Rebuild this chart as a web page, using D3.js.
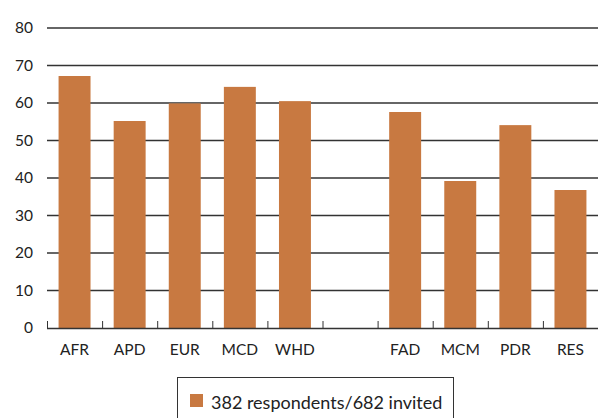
<!DOCTYPE html>
<meta charset="utf-8">
<body style="margin:0;background:#fff">
<svg width="598" height="418"></svg>
<script src="https://d3js.org/d3.v7.min.js"></script>
<script>
// survey response rates by department
var categories = ['AFR', 'APD', 'EUR', 'MCD', 'WHD', '', 'FAD', 'MCM', 'PDR', 'RES'];
var values = [67.2, 55.2, 59.9, 64.3, 60.5, null, 57.6, 39.2, 54.1, 36.8];
var yTicks = [0, 10, 20, 30, 40, 50, 60, 70, 80];
var legendLabel = '382 respondents/682 invited';

var svg = d3.select('svg');
var font = 'Lato, "Open Sans", sans-serif';
var barColor = '#c87941';

var x = d3.scaleBand()
  .domain(d3.range(categories.length))
  .range([47, 598])
  .paddingInner(0.42)
  .paddingOuter(0.21);

var y = d3.scaleLinear().domain([0, 80]).range([328, 28]);

// gridlines
svg.append('g').selectAll('line')
  .data(yTicks.slice(1))
  .enter().append('line')
  .attr('x1', 47).attr('x2', 598)
  .attr('y1', function(d) { return y(d); })
  .attr('y2', function(d) { return y(d); })
  .attr('stroke', '#333')
  .attr('stroke-width', 1.5);

// y labels
svg.append('g').selectAll('text')
  .data(yTicks)
  .enter().append('text')
  .attr('x', 33)
  .attr('y', function(d) { return y(d); })
  .attr('dy', '0.35em')
  .attr('text-anchor', 'end')
  .attr('font-family', font)
  .attr('font-size', 15.5)
  .attr('fill', '#222')
  .text(function(d) { return d; });

// bars
var bars = values.map(function(v, i) { return {i: i, v: v}; })
  .filter(function(d) { return d.v != null; });
svg.append('g').selectAll('rect')
  .data(bars)
  .enter().append('rect')
  .attr('x', function(d) { return x(d.i); })
  .attr('width', x.bandwidth())
  .attr('y', function(d) { return y(d.v); })
  .attr('height', function(d) { return y(0) - y(d.v); })
  .attr('fill', barColor);

// baseline and ticks
var step = x.step();
svg.append('line')
  .attr('x1', 47).attr('x2', 598)
  .attr('y1', 328.5).attr('y2', 328.5)
  .attr('stroke', '#333').attr('stroke-width', 1.5);
svg.append('g').selectAll('line')
  .data(d3.range(categories.length + 1))
  .enter().append('line')
  .attr('x1', function(d) { return 47.5 + d * step; })
  .attr('x2', function(d) { return 47.5 + d * step; })
  .attr('y1', 321).attr('y2', 328)
  .attr('stroke', '#333').attr('stroke-width', 1);

// category labels
svg.append('g').selectAll('text')
  .data(categories)
  .enter().append('text')
  .attr('x', function(d, i) { return x(i) + x.bandwidth() / 2; })
  .attr('y', 355)
  .attr('text-anchor', 'middle')
  .attr('font-family', font)
  .attr('font-size', 15.5)
  .attr('fill', '#222')
  .text(function(d) { return d; });

// legend
var lg = svg.append('g');
lg.append('rect')
  .attr('x', 177.5).attr('y', 377.5)
  .attr('width', 276).attr('height', 50)
  .attr('fill', 'none').attr('stroke', '#333').attr('stroke-width', 1);
lg.append('rect')
  .attr('x', 190).attr('y', 394)
  .attr('width', 13).attr('height', 13)
  .attr('fill', barColor);
lg.append('text')
  .attr('x', 211).attr('y', 409)
  .attr('font-family', font)
  .attr('font-size', 18)
  .attr('fill', '#222')
  .text(legendLabel);
</script>
